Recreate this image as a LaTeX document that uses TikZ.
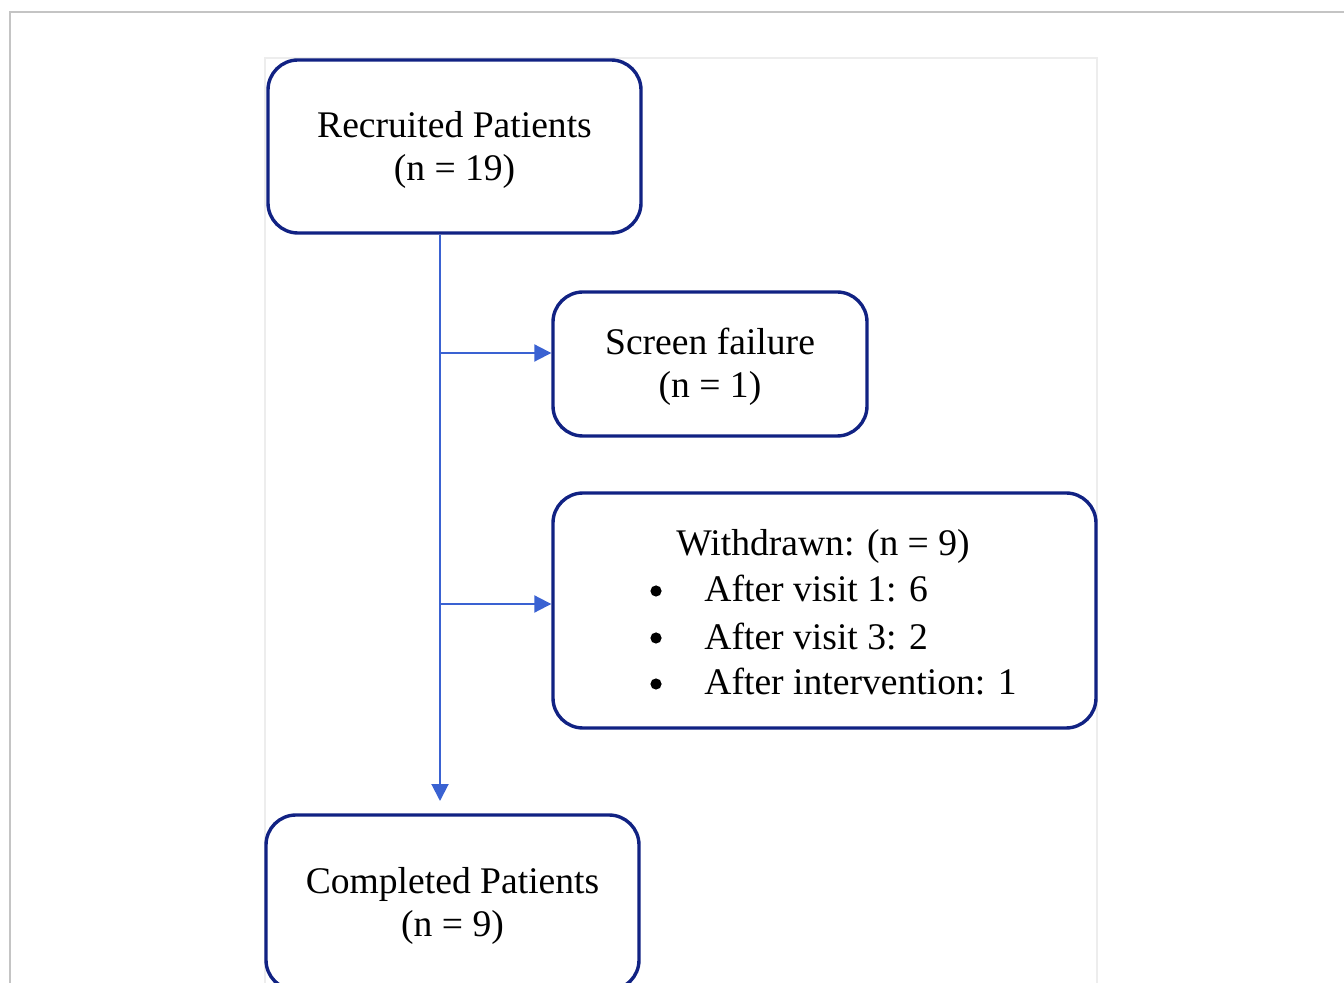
\documentclass[tikz,border=0pt]{standalone}
\usepackage{fontspec}
\setmainfont{Liberation Serif}
\usetikzlibrary{arrows.meta}
\definecolor{navy}{HTML}{112283}
\definecolor{arrblue}{HTML}{3A62D2}
\definecolor{framegray}{HTML}{C4C4C4}
\definecolor{panelgray}{HTML}{EDEDED}
\begin{document}
\begin{tikzpicture}[x=0.5pt,y=-0.5pt,
  box/.style={draw=navy,line width=1.7pt,rounded corners=15pt,inner sep=0pt},
  txt/.style={font=\fontsize{18.8}{21.5}\selectfont,inner sep=0pt,align=center},
  inlabel/.style={label={[txt,yshift=-1.5pt]center:{#1}}},
  dot/.style={circle,fill=black,inner sep=0pt,minimum size=5.6pt},
  arr/.style={draw=arrblue,line width=1pt,-{Triangle[length=8.5pt,width=8.5pt]}}]
\useasboundingbox (0,0) rectangle (1344,983);
\clip (0,0) rectangle (1344,983);
% frame and panel
\draw[framegray,line width=0.8pt] (10,983) -- (10,12) -- (1344,12);
\draw[panelgray,line width=0.6pt] (265,983) -- (265,58) -- (1097,58) -- (1097,983);
% boxes
\node[box,minimum width=186.5pt,minimum height=86.5pt,inlabel={Recruited Patients\\(n = 19)}] (rec) at (454.5,146.5) {};
\node[box,minimum width=157pt,minimum height=72pt,inlabel={Screen failure\\(n = 1)}] (scr) at (710,364) {};
\node[box,minimum width=271.5pt,minimum height=117.5pt] (wd) at (824.5,610.5) {};
\node[box,minimum width=186.5pt,minimum height=87.5pt,inlabel={Completed Patients\\(n = 9)}] (done) at (452.5,902.5) {};
% withdrawn text
\node[txt,anchor=base] (wdt) at (823,556) {Withdrawn: (n = 9)};
\node[dot] (b1) at (656,591) {};
\node[dot] (b2) at (656,638) {};
\node[dot] (b3) at (656,684) {};
\node[txt,anchor=base west] (i1) at (704,602) {After visit 1: 6};
\node[txt,anchor=base west] (i2) at (704,649) {After visit 3: 2};
\node[txt,anchor=base west] (i3) at (704,695) {After intervention: 1};
% connectors
\coordinate (vx) at (440,0);
\coordinate (tip) at (440,801);
\coordinate (j1) at (440,353);
\coordinate (j2) at (440,604);
\draw[arr] (rec.south -| vx) -- (tip);
\draw[arr] (j1) -- (j1 -| scr.west);
\draw[arr] (j2) -- (j2 -| wd.west);
\end{tikzpicture}
\end{document}
